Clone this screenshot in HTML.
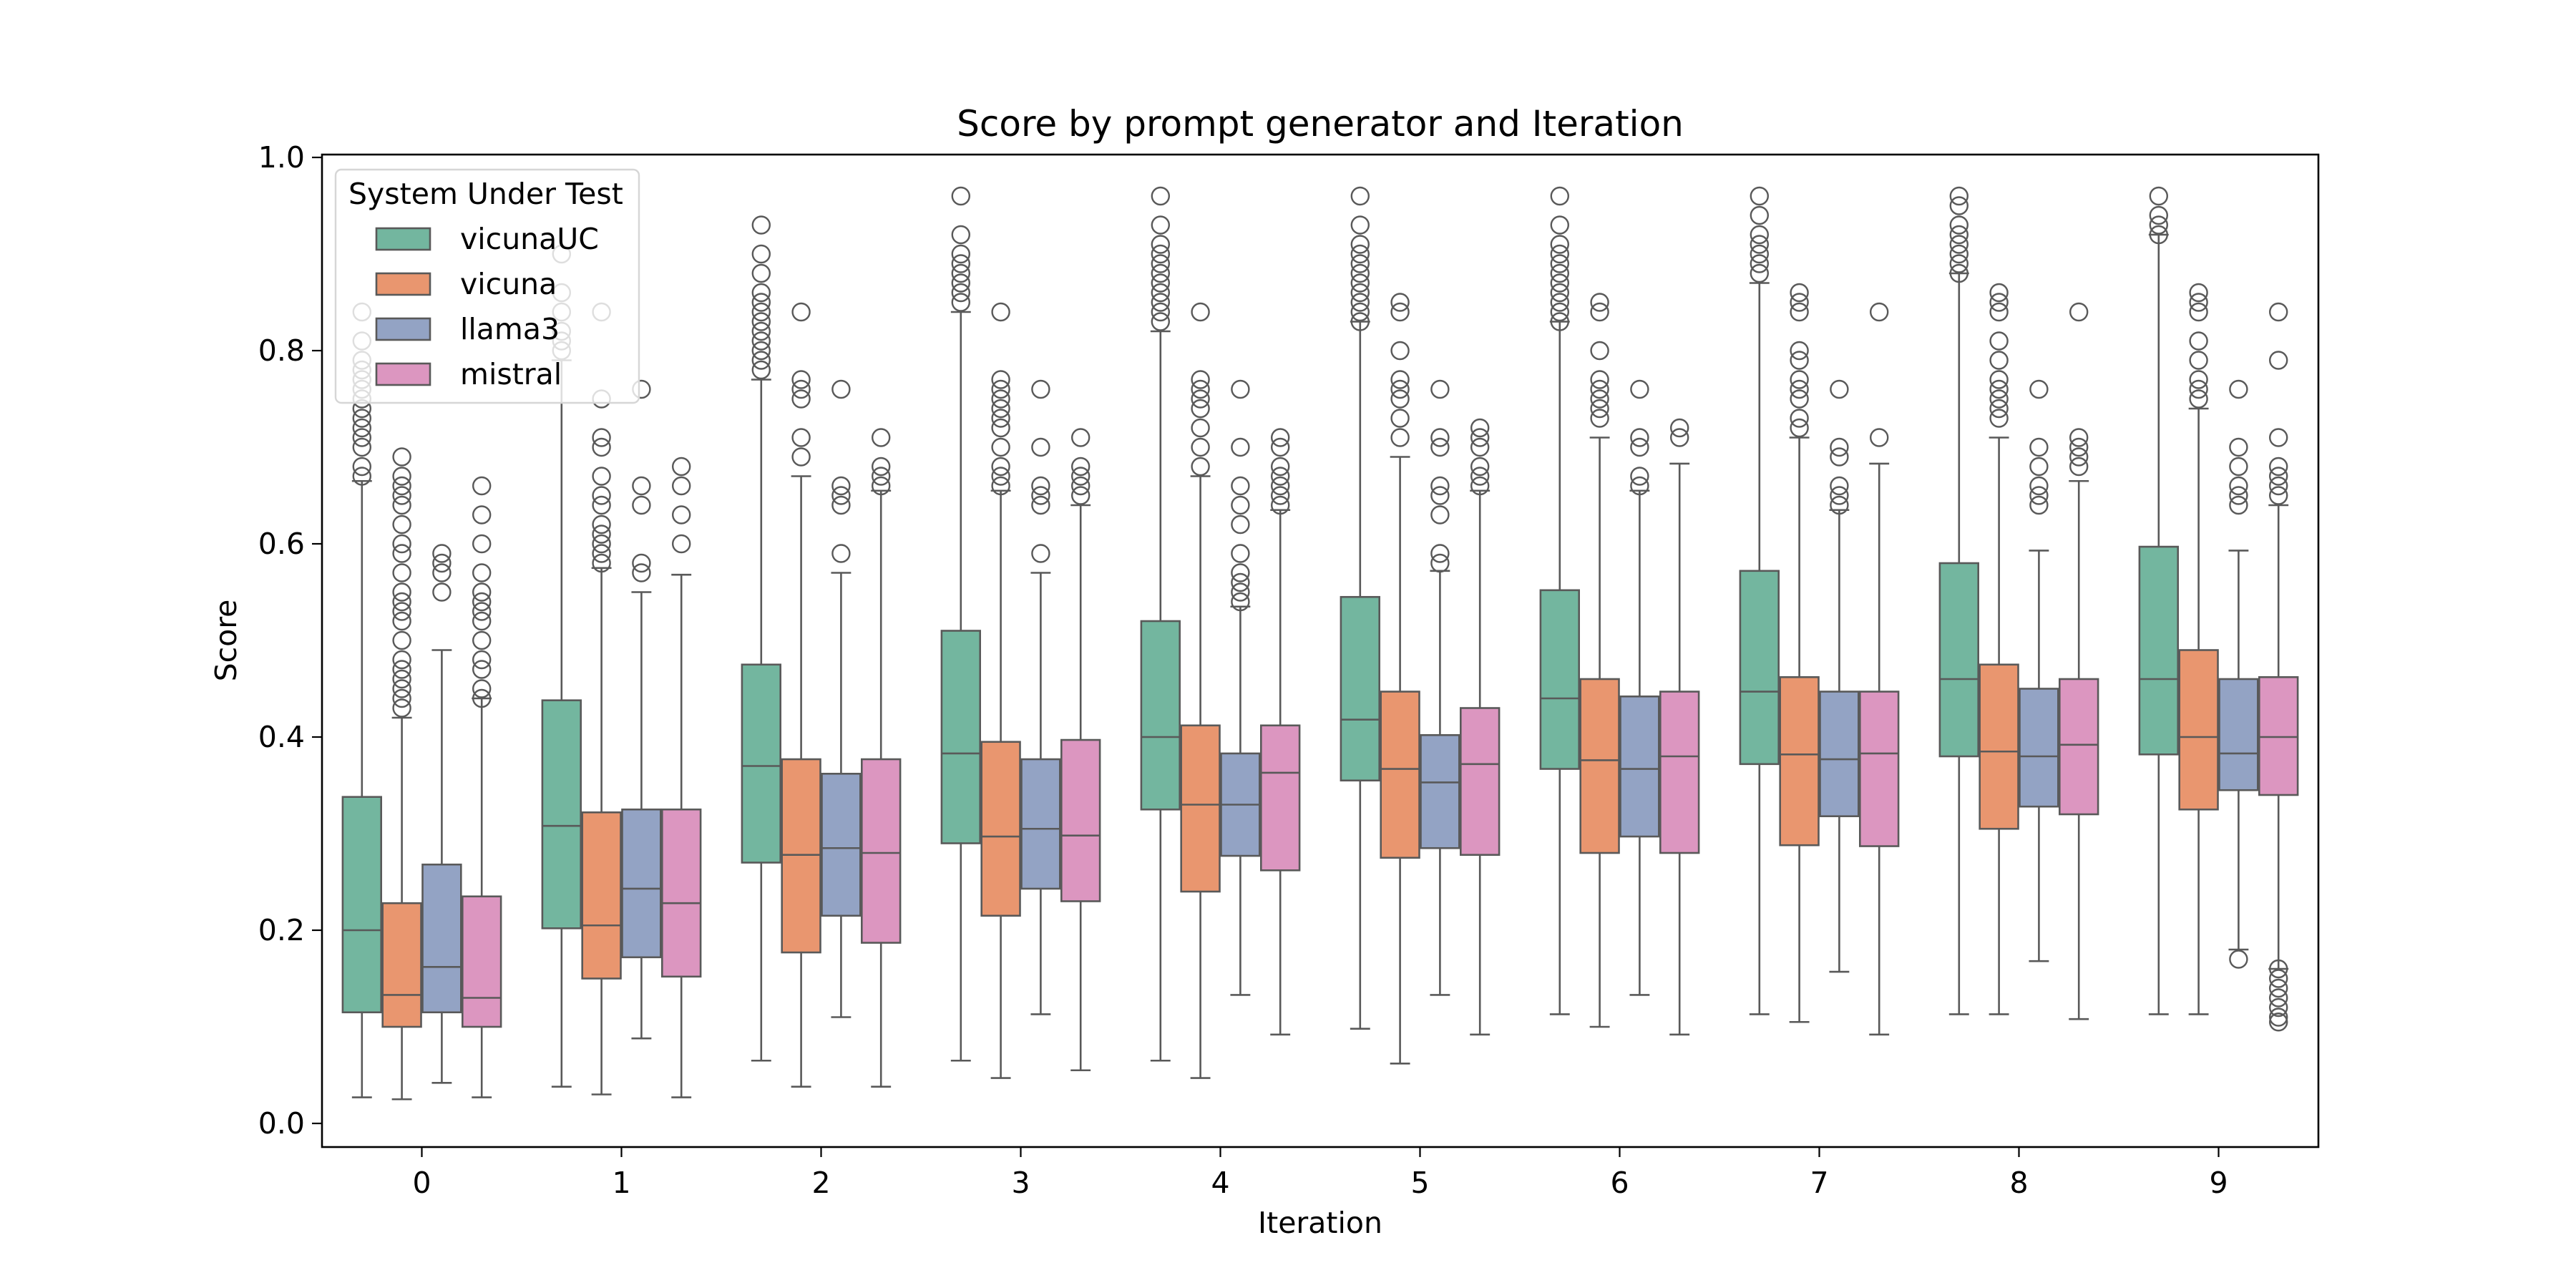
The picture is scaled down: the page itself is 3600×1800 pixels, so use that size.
<!DOCTYPE html>
<html><head><meta charset="utf-8"><style>
html,body{margin:0;padding:0;background:#fff;}
svg{display:block;font-family:"DejaVu Sans","Liberation Sans",sans-serif;}
</style></head><body>
<svg id="chart" width="3600" height="1800" viewBox="0 0 3600 1800" xmlns="http://www.w3.org/2000/svg">
<rect x="0" y="0" width="3600" height="1800" fill="#fff"/>
<g id="plot"></g>
<g id="axes"></g>
</svg>
<script>
const categories = ["0","1","2","3","4","5","6","7","8","9"];
const seriesNames = ["vicunaUC","vicuna","llama3","mistral"];
const seriesColors = ["#73b69f","#e9966f","#93a3c4","#dc96c0"];
const yTicks = [0.0,0.2,0.4,0.6,0.8,1.0];
const yTickLabels = ["0.0","0.2","0.4","0.6","0.8","1.0"];
// [lowWhisker, q1, median, q3, highWhisker] per iteration
const vicunaUC = [[.027,.115,.20,.338,.665],[.038,.202,.308,.438,.79],[.065,.27,.37,.475,.77],[.065,.29,.383,.51,.84],[.065,.325,.40,.52,.82],[.098,.355,.418,.545,.83],[.113,.367,.44,.552,.83],[.113,.372,.447,.572,.87],[.113,.38,.46,.58,.88],[.113,.382,.46,.597,.92]];
const vicuna = [[.025,.10,.133,.228,.42],[.03,.15,.205,.322,.575],[.038,.177,.278,.377,.67],[.047,.215,.297,.395,.655],[.047,.24,.33,.412,.67],[.062,.275,.367,.447,.69],[.10,.28,.376,.46,.71],[.105,.288,.382,.462,.71],[.113,.305,.385,.475,.71],[.113,.325,.40,.49,.74]];
const llama3 = [[.042,.115,.162,.268,.49],[.088,.172,.243,.325,.55],[.11,.215,.285,.362,.57],[.113,.243,.305,.377,.57],[.133,.277,.33,.383,.535],[.133,.285,.353,.402,.572],[.133,.297,.367,.442,.655],[.157,.318,.377,.447,.635],[.168,.328,.38,.45,.593],[.18,.345,.383,.46,.593]];
const mistral = [[.027,.10,.13,.235,.44],[.027,.152,.228,.325,.568],[.038,.187,.28,.377,.655],[.055,.23,.298,.397,.64],[.092,.262,.363,.412,.635],[.092,.278,.372,.43,.655],[.092,.28,.38,.447,.683],[.092,.287,.383,.447,.683],[.108,.32,.392,.46,.665],[.16,.34,.40,.462,.64]];
const vicunaUCOut = [[.67,.68,.70,.71,.72,.73,.74,.75,.76,.77,.78,.79,.81,.84],[.80,.81,.82,.84,.86,.90],[.78,.79,.80,.81,.82,.83,.84,.85,.86,.88,.90,.93],[.85,.86,.87,.88,.89,.90,.92,.96],[.83,.84,.85,.86,.87,.88,.89,.90,.91,.93,.96],[.83,.84,.85,.86,.87,.88,.89,.90,.91,.93,.96],[.83,.84,.85,.86,.87,.88,.89,.90,.91,.93,.96],[.88,.89,.90,.91,.92,.94,.96],[.88,.89,.90,.91,.92,.93,.95,.96],[.92,.93,.94,.96]];
const vicunaOut = [[.43,.44,.45,.46,.47,.48,.50,.52,.53,.54,.55,.57,.59,.60,.62,.64,.65,.66,.67,.69],[.58,.59,.60,.61,.62,.64,.65,.67,.70,.71,.75,.84],[.69,.71,.75,.76,.77,.84],[.66,.67,.68,.70,.72,.73,.74,.75,.76,.77,.84],[.68,.70,.72,.74,.75,.76,.77,.84],[.71,.73,.75,.76,.77,.80,.84,.85],[.73,.74,.75,.76,.77,.80,.84,.85],[.72,.73,.75,.76,.77,.79,.80,.84,.85,.86],[.73,.74,.75,.76,.77,.79,.81,.84,.85,.86],[.75,.76,.77,.79,.81,.84,.85,.86]];
const llama3Out = [[.55,.57,.58,.59],[.57,.58,.64,.66,.76],[.59,.64,.65,.66,.76],[.59,.64,.65,.66,.70,.76],[.54,.55,.56,.57,.59,.62,.64,.66,.70,.76],[.58,.59,.63,.65,.66,.70,.71,.76],[.66,.67,.70,.71,.76],[.64,.65,.66,.69,.70,.76],[.64,.65,.66,.68,.70,.76],[.17,.64,.65,.66,.68,.70,.76]];
const mistralOut = [[.44,.45,.47,.48,.50,.52,.53,.54,.55,.57,.60,.63,.66],[.60,.63,.66,.68],[.66,.67,.68,.71],[.65,.66,.67,.68,.71],[.64,.65,.66,.67,.68,.70,.71],[.66,.67,.68,.70,.71,.72],[.71,.72],[.71,.84],[.68,.69,.70,.71,.84],[.105,.11,.12,.13,.14,.15,.16,.65,.66,.67,.68,.71,.79,.84]];

const allStats=[vicunaUC,vicuna,llama3,mistral];
const allOut=[vicunaUCOut,vicunaOut,llama3Out,mistralOut];
const NS="http://www.w3.org/2000/svg";
const L=450,R=3240,T=216,B=1603,Y0=1570,Y1=220;
const y=v=>Y0-(Y0-Y1)*v;
const band=(R-L)/categories.length;
const xc=i=>L+band*(i+0.5);
const boxW=band*0.8/seriesNames.length;
const EDGE="#595959";
function mk(tag,attrs,parent){const e=document.createElementNS(NS,tag);for(const k in attrs)e.setAttribute(k,attrs[k]);parent.appendChild(e);return e;}
const plot=document.getElementById('plot');
const axes=document.getElementById('axes');
const lw=2.6;
for(let s=0;s<seriesNames.length;s++){
  for(let i=0;i<categories.length;i++){
    const st=allStats[s][i];
    const cx=xc(i)-band*0.4+boxW*(s+0.5);
    const g=mk('g',{},plot);
    
    
    mk('line',{x1:cx,x2:cx,y1:y(st[0]),y2:y(st[1]),stroke:EDGE,'stroke-width':lw},g);
    mk('line',{x1:cx,x2:cx,y1:y(st[3]),y2:y(st[4]),stroke:EDGE,'stroke-width':lw},g);
    mk('line',{x1:cx-boxW/4,x2:cx+boxW/4,y1:y(st[0]),y2:y(st[0]),stroke:EDGE,'stroke-width':lw},g);
    mk('line',{x1:cx-boxW/4,x2:cx+boxW/4,y1:y(st[4]),y2:y(st[4]),stroke:EDGE,'stroke-width':lw},g);
    mk('rect',{x:cx-boxW/2+1,y:y(st[3]),width:boxW-2,height:y(st[1])-y(st[3]),fill:seriesColors[s],stroke:EDGE,'stroke-width':lw},g);
    mk('line',{x1:cx-boxW/2+1,x2:cx+boxW/2-1,y1:y(st[2]),y2:y(st[2]),stroke:EDGE,'stroke-width':lw},g);
    for(const o of allOut[s][i]){
      const c=mk('circle',{cx:cx,cy:y(o),r:12,fill:'none',stroke:EDGE,'stroke-width':2.4},g);
      
      
    }
  }
}
const fr=mk('rect',{x:L,y:T,width:R-L,height:B-T,fill:'none',stroke:'#000','stroke-width':2.6},axes);


for(let k=0;k<yTicks.length;k++){
  const yy=y(yTicks[k]);
  mk('line',{x1:L-14,x2:L,y1:yy,y2:yy,stroke:'#000','stroke-width':2.2},axes);
  const t=mk('text',{x:L-24,y:yy+14,'text-anchor':'end','font-size':41},axes);
  t.textContent=yTickLabels[k];
  
  
}
for(let i=0;i<categories.length;i++){
  mk('line',{x1:xc(i),x2:xc(i),y1:B,y2:B+14,stroke:'#000','stroke-width':2.2},axes);
  const t=mk('text',{x:xc(i),y:B+64,'text-anchor':'middle','font-size':41},axes);
  t.textContent=categories[i];
  
  
}
</script>
<svg style="position:absolute;left:0;top:0" width="3600" height="1800" xmlns="http://www.w3.org/2000/svg">
<text x="1845" y="190" text-anchor="middle" font-size="50" font-family="DejaVu Sans, Liberation Sans, sans-serif">Score by prompt generator and Iteration</text>
<text x="1845" y="1723" text-anchor="middle" font-size="41" font-family="DejaVu Sans, Liberation Sans, sans-serif">Iteration</text>
<text x="0" y="0" transform="translate(330,895) rotate(-90)" text-anchor="middle" font-size="41" font-family="DejaVu Sans, Liberation Sans, sans-serif">Score</text>
<g font-family="DejaVu Sans, Liberation Sans, sans-serif">
<rect x="469" y="237" width="424" height="326" rx="8" fill="#fff" fill-opacity="0.8" stroke="#d6d6d6" stroke-width="2.4"/>
<text x="487" y="285" font-size="41">System Under Test</text>
<g><rect x="526" y="319" width="75" height="30" fill="#73b69f" stroke="#595959" stroke-width="2.6"/><text x="643" y="348" font-size="41">vicunaUC</text></g>
<g><rect x="526" y="382" width="75" height="30" fill="#e9966f" stroke="#595959" stroke-width="2.6"/><text x="643" y="411" font-size="41">vicuna</text></g>
<g><rect x="526" y="445" width="75" height="30" fill="#93a3c4" stroke="#595959" stroke-width="2.6"/><text x="643" y="474" font-size="41">llama3</text></g>
<g><rect x="526" y="508" width="75" height="30" fill="#dc96c0" stroke="#595959" stroke-width="2.6"/><text x="643" y="537" font-size="41">mistral</text></g>
</g>
</svg>
</body></html>
